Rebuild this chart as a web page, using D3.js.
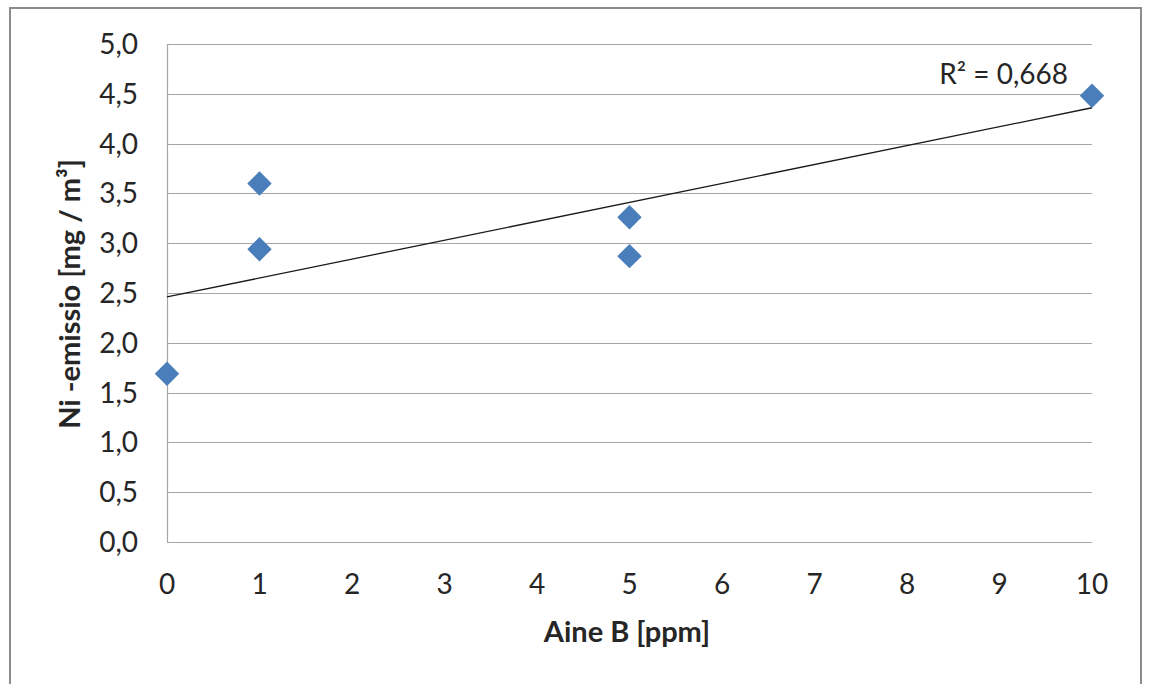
<!DOCTYPE html>
<html>
<head>
<meta charset="utf-8">
<script src="https://cdn.jsdelivr.net/npm/d3@7"></script>
<style>
  html, body { margin: 0; padding: 0; background: #fff; }
  svg { display: block; font-family: Lato, "Open Sans", sans-serif; }
</style>
</head>
<body>
<svg id="chart" width="1149" height="684"></svg>
<script>
// Measured samples: additive concentration vs. Ni emission
const aineB = [0, 1, 1, 5, 5, 10];
const niEmissio = [1.69, 3.60, 2.94, 3.26, 2.87, 4.48];

// Linear trendline parameters and its fit label
const trendIntercept = 2.46;
const trendSlope = 0.190;
const rSquaredLabel = "R² = 0,668";

const xTicks = [0, 1, 2, 3, 4, 5, 6, 7, 8, 9, 10];
const yTicks = [0, 0.5, 1, 1.5, 2, 2.5, 3, 3.5, 4, 4.5, 5];

const svg = d3.select("#chart");
const plot = { left: 167, top: 44, right: 1092, bottom: 542 };
const labelSize = 28, titleSize = 29;

// Outer chart frame
svg.append("rect")
  .attr("x", 10).attr("y", 8)
  .attr("width", 1131).attr("height", 690)
  .attr("fill", "#fff")
  .attr("stroke", "#8c8c8c").attr("stroke-width", 2);

const x = d3.scaleLinear().domain([0, 10]).range([plot.left, plot.right]);
const y = d3.scaleLinear().domain([0, 5]).range([plot.bottom, plot.top]);

// Horizontal gridlines
svg.append("g")
  .selectAll("line")
  .data(yTicks)
  .join("line")
  .attr("x1", plot.left).attr("x2", plot.right)
  .attr("y1", d => Math.round(y(d)) + 0.5).attr("y2", d => Math.round(y(d)) + 0.5)
  .attr("stroke", "#a6a6a6").attr("stroke-width", 1.2);

// Y axis line
svg.append("line")
  .attr("x1", plot.left + 0.5).attr("x2", plot.left + 0.5)
  .attr("y1", plot.top).attr("y2", plot.bottom)
  .attr("stroke", "#a6a6a6").attr("stroke-width", 1.2);

const fmt = d => d3.format(".1f")(d).replace(".", ",");

// Y tick labels
svg.append("g")
  .selectAll("text")
  .data(yTicks)
  .join("text")
  .attr("x", 138)
  .attr("y", d => y(d) + 10)
  .attr("text-anchor", "end")
  .attr("font-size", labelSize)
  .attr("fill", "#262626")
  .text(fmt);

// X tick labels
svg.append("g")
  .selectAll("text")
  .data(xTicks)
  .join("text")
  .attr("x", d => x(d))
  .attr("y", 594)
  .attr("text-anchor", "middle")
  .attr("font-size", labelSize)
  .attr("fill", "#262626")
  .text(d => d);

// Axis titles
svg.append("text")
  .attr("x", 627).attr("y", 642)
  .attr("text-anchor", "middle")
  .attr("font-size", titleSize).attr("font-weight", "bold")
  .attr("fill", "#262626")
  .text("Aine B [ppm]");

svg.append("text")
  .attr("transform", "translate(80,294) rotate(-90)")
  .attr("text-anchor", "middle")
  .attr("font-size", titleSize).attr("font-weight", "bold")
  .attr("fill", "#262626")
  .text("Ni -emissio [mg / m³]");

// Trendline
svg.append("line")
  .attr("x1", x(0)).attr("y1", y(trendIntercept))
  .attr("x2", x(10)).attr("y2", y(trendIntercept + trendSlope * 10))
  .attr("stroke", "#1a1a1a").attr("stroke-width", 1.3);

// Diamond markers
const diamond = d3.symbol().type(d3.symbolDiamond2).size(380);
svg.append("g")
  .selectAll("path")
  .data(aineB.map((v, i) => [v, niEmissio[i]]))
  .join("path")
  .attr("transform", d => `translate(${x(d[0])},${y(d[1])})`)
  .attr("d", diamond)
  .attr("fill", "#4a7ebb");

// Fit label
svg.append("text")
  .attr("x", 1068).attr("y", 84)
  .attr("text-anchor", "end")
  .attr("font-size", labelSize)
  .attr("fill", "#262626")
  .text(rSquaredLabel);
</script>
</body>
</html>
